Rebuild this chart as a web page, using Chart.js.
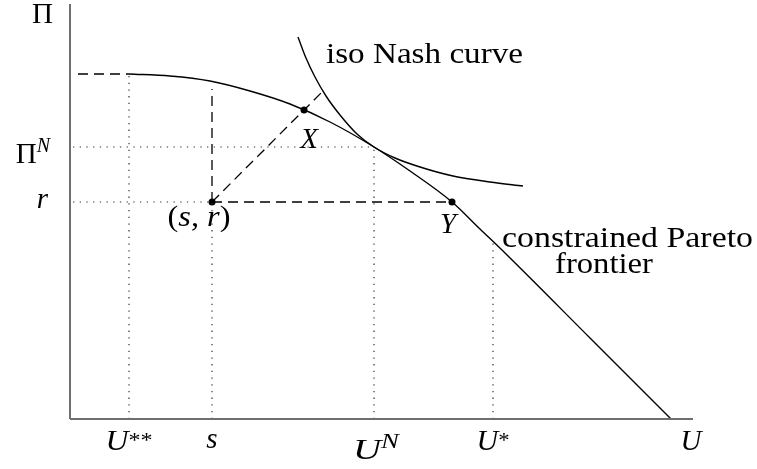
<!DOCTYPE html>
<html>
<head>
<meta charset="utf-8">
<script src="https://cdn.jsdelivr.net/npm/chart.js@4.4.1/dist/chart.umd.min.js"></script>
<style>
    html, body { margin: 0; padding: 0; background: #fff; }
</style>
</head>
<body>
<canvas id="grafico-nash" width="757" height="469"></canvas>
<script>
// values (arbitrary units, origin at the axes corner)
const U_MAX = 623, PI_MAX = 415;     // extent of the axes
const S = 142, R = 217;              // disagreement point (s, r)
const U_SS = 59, PI_TOP = 345;       // U** and top of the frontier
const U_N = 304, PI_N = 272;         // Nash point (U^N, Pi^N)
const U_STAR = 423, PI_STAR = 176;   // U* and frontier height there
const GUIDE_START = 3, TOP_START = 8, DASH_TOP = 330;

const paretoU  = [59, 100, 140, 180, 220, 260, 304, 340, 382, 410, 436, 520, 601];
const paretoPi = [345, 343, 338, 328, 315, 297, 272, 248, 217, 190, 165, 81, 0];

const nashU  = [228, 236, 245, 256, 270, 287, 304, 325, 350, 383, 420, 453];
const nashPi = [382, 361, 342, 323, 304, 285, 272, 261, 252, 243, 237, 233];

const dotsU  = [S, 234, 382];   // (s,r), X, Y
const dotsPi = [R, 309, R];

const dashedLines = [
    [[TOP_START, PI_TOP], [U_SS, PI_TOP]],
    [[S, R], [S, DASH_TOP]],
    [[S, R], [dotsU[2], R]],
    [[S, R], [S + (DASH_TOP - R), DASH_TOP]]
];
const dottedLines = [
    [[GUIDE_START, PI_N], [U_N, PI_N]],
    [[GUIDE_START, R], [S, R]],
    [[U_SS, 0], [U_SS, PI_TOP]],
    [[S, 0], [S, R]],
    [[U_N, 0], [U_N, PI_N]],
    [[U_STAR, 0], [U_STAR, PI_STAR]]
];

const toPts = (xs, ys) => xs.map((x, i) => ({ x: x, y: ys[i] }));
const segPts = seg => seg.map(p => ({ x: p[0], y: p[1] }));

const datasets = [];
// axes
datasets.push({ data: segPts([[0, 0], [U_MAX, 0]]), borderColor: '#6f6f6f', borderWidth: 2, clip: false });
datasets.push({ data: segPts([[0, 0], [0, PI_MAX]]), borderColor: '#6f6f6f', borderWidth: 2, clip: false });
dottedLines.forEach(s => datasets.push({
    data: segPts(s), borderColor: '#333', borderWidth: 1.2, borderDash: [1.3, 5.4]
}));
dashedLines.forEach(s => datasets.push({
    data: segPts(s), borderColor: '#000', borderWidth: 1.3, borderDash: [10, 6]
}));
datasets.push({
    label: 'constrained Pareto frontier',
    data: toPts(paretoU, paretoPi), borderColor: '#000', borderWidth: 1.4,
    cubicInterpolationMode: 'monotone'
});
datasets.push({
    label: 'iso Nash curve',
    data: toPts(nashU, nashPi), borderColor: '#000', borderWidth: 1.4,
    cubicInterpolationMode: 'monotone'
});
datasets.push({
    data: toPts(dotsU, dotsPi), showLine: false, pointRadius: 3.5,
    pointBackgroundColor: '#000', pointBorderWidth: 0
});
datasets.forEach(d => {
    if (d.showLine === undefined) d.showLine = true;
    if (d.pointRadius === undefined) d.pointRadius = 0;
});

const FONT = '"Liberation Serif", serif';
const BIG = 29, SMALL = 20;

// labels: parts are drawn side by side, sup parts raised
const labels = [
    { parts: [{ t: 'Π' }], u: 0, pi: PI_MAX, dx: -17, dy: 19, align: 'right' },
    { parts: [{ t: 'Π' }, { t: 'N', it: 1, sup: 11 }], u: 0, pi: PI_N, dx: -20, dy: 16, align: 'right' },
    { parts: [{ t: 'r', it: 1 }], u: 0, pi: R, dx: -22, dy: 6, align: 'right' },
    { parts: [{ t: 'U', it: 1 }, { t: '**', sup: 3, size: 22 }], u: U_SS, pi: 0, dy: 31, width: 47 },
    { parts: [{ t: 's', it: 1 }], u: S, pi: 0, dy: 29 },
    { parts: [{ t: 'U', it: 1 }, { t: 'N', it: 1, sup: 11 }], u: U_N, pi: 0, dx: 2, dy: 40, width: 46 },
    { parts: [{ t: 'U', it: 1 }, { t: '*', sup: 3, size: 22 }], u: U_STAR, pi: 0, dy: 31, width: 33 },
    { parts: [{ t: 'U', it: 1 }], u: U_MAX, pi: 0, dx: -2, dy: 31 },
    { parts: [{ t: 'iso Nash curve' }], u: nashU[0], pi: nashPi[0], dx: 28, dy: 26, align: 'left', width: 197 },
    { parts: [{ t: 'X', it: 1 }], u: dotsU[1], pi: dotsPi[1], dx: 5, dy: 38 },
    { parts: [{ t: 'Y', it: 1 }], u: dotsU[2], pi: dotsPi[2], dx: -4, dy: 31 },
    { parts: [{ t: '(' }, { t: 's', it: 1 }, { t: ', ' }, { t: 'r', it: 1 }, { t: ')' }], u: S, pi: R, dx: -13, dy: 24, width: 63 },
    { parts: [{ t: 'constrained Pareto' }], u: U_STAR, pi: PI_STAR, dx: 9, dy: 4, align: 'left', width: 251 },
    { parts: [{ t: 'frontier' }], u: U_STAR, pi: PI_STAR, dx: 62, dy: 30, align: 'left', width: 98 }
];

function partFont(p) {
    const size = p.size || (p.sup ? SMALL : BIG);
    return (p.it ? 'italic ' : '') + size + 'px ' + FONT;
}

function drawLabel(ctx, l, x, y) {
    let total = 0;
    const ws = l.parts.map(p => {
        ctx.font = partFont(p);
        const w = ctx.measureText(p.t).width;
        total += w;
        return w;
    });
    const sx = l.width ? l.width / total : 1;
    const shown = total * sx;
    let x0 = x - shown / 2;
    if (l.align === 'right') x0 = x - shown;
    if (l.align === 'left') x0 = x;
    ctx.save();
    ctx.translate(x0, y);
    ctx.scale(sx, 1);
    ctx.fillStyle = '#000';
    ctx.textBaseline = 'alphabetic';
    ctx.textAlign = 'left';
    let cx = 0;
    l.parts.forEach((p, i) => {
        ctx.font = partFont(p);
        ctx.fillText(p.t, cx, -(p.sup || 0));
        cx += ws[i];
    });
    ctx.restore();
}

const labelPlugin = {
    id: 'mathLabels',
    afterDatasetsDraw(chart) {
        const xs = chart.scales.x, ys = chart.scales.y;
        labels.forEach(l => {
            drawLabel(chart.ctx, l,
                xs.getPixelForValue(l.u) + (l.dx || 0),
                ys.getPixelForValue(l.pi) + (l.dy || 0));
        });
    }
};

const CHART = document.getElementById('grafico-nash');
const grafico = new Chart(CHART, {
    type: 'scatter',
    data: { datasets: datasets },
    options: {
        responsive: false,
        animation: false,
        layout: { padding: { left: 70, right: 64, top: 4, bottom: 50 } },
        plugins: { legend: { display: false }, tooltip: { enabled: false } },
        scales: {
            x: { type: 'linear', min: 0, max: U_MAX, display: false },
            y: { type: 'linear', min: 0, max: PI_MAX, display: false }
        }
    },
    plugins: [labelPlugin]
});
</script>
</body>
</html>
